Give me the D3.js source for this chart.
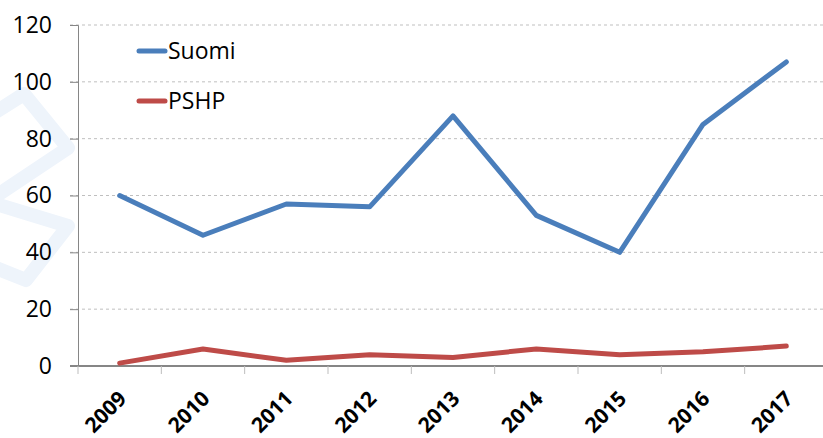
<!DOCTYPE html>
<html>
<head>
<meta charset="utf-8">
<script src="https://cdn.jsdelivr.net/npm/d3@7"></script>
<style>
  body { margin: 0; background: #fff; }
  text { font-family: "Open Sans", "Noto Sans", sans-serif; }
</style>
</head>
<body>
<script>
var years = ["2009", "2010", "2011", "2012", "2013", "2014", "2015", "2016", "2017"];
var suomi = [60, 46, 57, 56, 88, 53, 40, 85, 107];
var pshp = [1, 6, 2, 4, 3, 6, 4, 5, 7];
var yTicks = [0, 20, 40, 60, 80, 100, 120];
var seriesNames = ["Suomi", "PSHP"];
var seriesColors = ["#4a7ebb", "#be4b48"];

var width = 823,
    height = 438;

var svg = d3.select("body").append("svg")
    .attr("width", width)
    .attr("height", height);

// faint logo watermark on the left
var wm = [
    [[-14, 118], [24, 94], [68, 148], [-4, 196]],
    [[-4, 204], [68, 226], [26, 280], [-14, 264]]
];
svg.selectAll(".wm")
    .data(wm)
    .enter().append("path")
    .attr("class", "wm")
    .attr("d", d3.line())
    .attr("fill", "none")
    .attr("stroke", "#eef4fb")
    .attr("stroke-width", 14)
    .attr("stroke-linejoin", "round")
    .attr("stroke-linecap", "round");

var x = d3.scaleBand()
    .domain(years)
    .range([78, 828]);

var y = d3.scaleLinear()
    .domain([0, 120])
    .range([366, 25]);

// grid lines
svg.append("g")
    .selectAll("line")
    .data(yTicks.filter(function (d) { return d > 0; }))
    .enter().append("line")
    .attr("x1", 70)
    .attr("x2", width)
    .attr("y1", function (d) { return y(d); })
    .attr("y2", function (d) { return y(d); })
    .attr("stroke", "#bfbfbf")
    .attr("stroke-width", 1)
    .attr("stroke-dasharray", "3,3");

// y axis
var yAxis = svg.append("g")
    .attr("transform", "translate(78,0)")
    .call(d3.axisLeft(y).tickValues(yTicks).tickSize(8).tickPadding(18));
yAxis.select(".domain").attr("stroke", "#868686");
yAxis.selectAll(".tick line").attr("stroke", "#868686");
yAxis.selectAll(".tick text")
    .attr("font-size", 23)
    .attr("fill", "#000")
    .attr("font-family", "Open Sans, sans-serif");

// x axis
var xAxis = svg.append("g")
    .attr("transform", "translate(0,366)");
xAxis.append("line")
    .attr("x1", 70)
    .attr("x2", width)
    .attr("stroke", "#868686")
    .attr("stroke-width", 2);
xAxis.selectAll(".xt")
    .data(years)
    .enter().append("line")
    .attr("class", "xt")
    .attr("x1", function (d) { return x(d); })
    .attr("x2", function (d) { return x(d); })
    .attr("y1", 0)
    .attr("y2", 8)
    .attr("stroke", "#bdbdbd")
    .attr("stroke-width", 1);
xAxis.selectAll(".xl")
    .data(years)
    .enter().append("text")
    .attr("class", "xl")
    .attr("transform", function (d) {
        return "translate(" + (x(d) + x.bandwidth() / 2 + 8) + ",34) rotate(-45)";
    })
    .attr("text-anchor", "end")
    .attr("font-size", 21)
    .attr("font-weight", "bold")
    .attr("fill", "#000")
    .text(function (d) { return d; });

// lines
var line = d3.line()
    .x(function (d, i) { return x(years[i]) + x.bandwidth() / 2; })
    .y(function (d) { return y(d); });

svg.selectAll(".series")
    .data([suomi, pshp])
    .enter().append("path")
    .attr("class", "series")
    .attr("d", line)
    .attr("fill", "none")
    .attr("stroke", function (d, i) { return seriesColors[i]; })
    .attr("stroke-width", 5)
    .attr("stroke-linejoin", "round")
    .attr("stroke-linecap", "round");

// legend
var lg = svg.selectAll(".lg")
    .data(seriesNames)
    .enter().append("g")
    .attr("class", "lg")
    .attr("transform", function (d, i) { return "translate(139," + (51 + i * 50) + ")"; });
lg.append("line")
    .attr("x1", 0)
    .attr("x2", 26)
    .attr("stroke", function (d, i) { return seriesColors[i]; })
    .attr("stroke-width", 5)
    .attr("stroke-linecap", "round");
lg.append("text")
    .attr("x", 29)
    .attr("y", 8)
    .attr("font-size", 23)
    .attr("fill", "#000")
    .text(function (d) { return d; });
</script>
</body>
</html>
